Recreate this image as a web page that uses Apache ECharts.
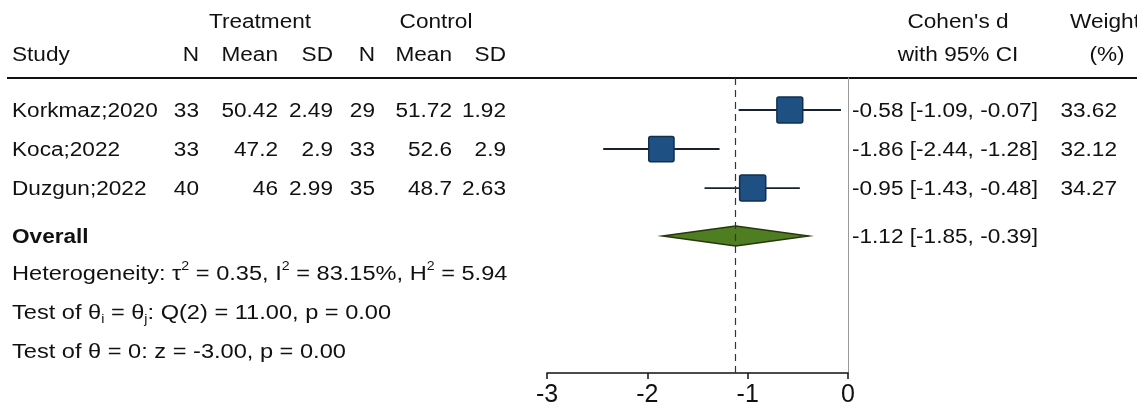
<!DOCTYPE html>
<html>
<head>
<meta charset="utf-8">
<script src="https://cdn.jsdelivr.net/npm/echarts@6/dist/echarts.min.js"></script>
<style>
  html, body { margin: 0; padding: 0; background: #fff; }
  #main { width: 1137px; height: 404px; }
</style>
</head>
<body>
<div id="main"></div>
<script>
// ---- data ----
var studies   = ['Korkmaz;2020', 'Koca;2022', 'Duzgun;2022'];
var treatN    = [33, 33, 40];
var treatMean = [50.42, 47.2, 46];
var treatSD   = [2.49, 2.9, 2.99];
var ctrlN     = [29, 33, 35];
var ctrlMean  = [51.72, 52.6, 48.7];
var ctrlSD    = [1.92, 2.9, 2.63];
var effect    = [-0.58, -1.86, -0.95];
var ciLow     = [-1.09, -2.44, -1.43];
var ciHigh    = [-0.07, -1.28, -0.48];
var weight    = [33.62, 32.12, 34.27];
var overall   = [-1.12, -1.85, -0.39];   // d, lower, upper
var xTicks    = [-3, -2, -1, 0];
var hetStats  = { tau2: '0.35', i2: '83.15', h2: '5.94' };
var qTest     = { df: 2, q: '11.00', p: '0.00' };
var zTest     = { z: '-3.00', p: '0.00' };

var FONT = '"Liberation Sans", Arial, Helvetica, sans-serif';
var SX = 1.13;           // text in the source is a bit wide
var SX_NOTE = 1.18;      // the footnote lines are a touch wider still
var Y_MAX = 7.56;        // rows are one unit apart
var myChart = echarts.init(document.getElementById('main'));

function rowY(i) { return i + 0.82; }
var overallY = studies.length + 1.05;

var studyData = studies.map(function (s, i) {
  return [effect[i], ciLow[i], ciHigh[i], rowY(i), weight[i]];
});

var option = {
  animation: false,
  textStyle: { fontFamily: FONT },
  grid: { left: 547, right: 289, top: 78, bottom: 31, outerBoundsMode: 'none', containLabel: false },
  xAxis: {
    type: 'value',
    min: xTicks[0],
    max: xTicks[xTicks.length - 1],
    interval: 1,
    axisLine: { onZero: false, lineStyle: { color: '#111', width: 1.5 } },
    axisTick: { length: 6, lineStyle: { color: '#111', width: 1.5 } },
    axisLabel: { fontSize: 25, color: '#111', margin: 10, fontFamily: FONT },
    splitLine: { show: false }
  },
  yAxis: {
    type: 'value',
    inverse: true,
    min: 0,
    max: Y_MAX,
    position: 'right',
    axisLine: { show: true, onZero: false, lineStyle: { color: '#999', width: 1 } },
    axisTick: { show: false },
    axisLabel: { show: false },
    splitLine: { show: false }
  },
  series: [{
    // overall effect reference line
    type: 'line',
    data: [],
    z: 1,
    markLine: {
      silent: true,
      symbol: 'none',
      label: { show: false },
      lineStyle: { color: '#333', width: 1.2, type: [7, 5] },
      data: [{ xAxis: overall[0] }]
    }
  }, {
    type: 'custom',
    z: 3,
    data: studyData,
    renderItem: function (params, api) {
      var y = api.value(3);
      var p0 = api.coord([api.value(1), y]);
      var p1 = api.coord([api.value(2), y]);
      var c = api.coord([api.value(0), y]);
      var s = 26 * Math.sqrt(api.value(4) / 34);
      return {
        type: 'group',
        children: [{
          type: 'line',
          shape: { x1: p0[0], y1: p0[1], x2: p1[0], y2: p1[1] },
          style: { stroke: '#18222e', lineWidth: 1.8 }
        }, {
          type: 'rect',
          shape: { x: c[0] - s / 2, y: c[1] - s / 2, width: s, height: s, r: 2 },
          style: { fill: '#1e5083', stroke: '#10304f', lineWidth: 1.5 }
        }]
      };
    }
  }, {
    type: 'custom',
    z: 3,
    data: [[overall[0], overall[1], overall[2], overallY]],
    renderItem: function (params, api) {
      var y = api.value(3);
      var c = api.coord([api.value(0), y]);
      var l = api.coord([api.value(1), y]);
      var r = api.coord([api.value(2), y]);
      var h = 10;
      return {
        type: 'polygon',
        shape: { points: [[l[0], l[1]], [c[0], c[1] - h], [r[0], r[1]], [c[0], c[1] + h]] },
        style: { fill: '#4f7d22', stroke: '#26360f', lineWidth: 1.4 }
      };
    }
  }]
};
myChart.setOption(option);

// ---- table text ----
function py(v) { return myChart.convertToPixel({ yAxisIndex: 0 }, v); }
var RICH = {
  sup: { fontSize: 12, verticalAlign: 'top', fontFamily: FONT, fill: '#111' },
  sub: { fontSize: 12, verticalAlign: 'bottom', fontFamily: FONT, fill: '#111' }
};
function txt(x, v, s, align, bold, sx) {
  return {
    type: 'text',
    x: x,
    y: py(v) + 1,
    scaleX: sx || SX,
    silent: true,
    style: {
      text: s, x: 0, y: 0,
      align: align,
      verticalAlign: 'middle',
      fontSize: 20,
      lineHeight: 26,
      fontFamily: FONT,
      fontWeight: bold ? 'bold' : 'normal',
      fill: '#111',
      rich: RICH
    }
  };
}
function f2(v) { return v.toFixed(2); }

var HEAD1 = -1.44, HEAD2 = -0.59;
var cols = [
  { x: 199, vals: treatN },
  { x: 278, vals: treatMean },
  { x: 333, vals: treatSD },
  { x: 375, vals: ctrlN },
  { x: 452, vals: ctrlMean },
  { x: 506, vals: ctrlSD }
];
var heads = ['N', 'Mean', 'SD', 'N', 'Mean', 'SD'];
var g = [];
g.push(txt(260, HEAD1, 'Treatment', 'center'));
g.push(txt(436, HEAD1, 'Control', 'center'));
g.push(txt(958, HEAD1, "Cohen's d", 'center'));
g.push(txt(958, HEAD2, 'with 95% CI', 'center'));
g.push(txt(1105, HEAD1, 'Weight', 'center'));
g.push(txt(1107, HEAD2, '(%)', 'center'));
g.push(txt(12, HEAD2, 'Study', 'left'));
cols.forEach(function (c, k) {
  g.push(txt(c.x, HEAD2, heads[k], 'right'));
  c.vals.forEach(function (v, i) { g.push(txt(c.x, rowY(i), String(v), 'right')); });
});
studies.forEach(function (s, i) {
  g.push(txt(12, rowY(i), s, 'left'));
  g.push(txt(852, rowY(i), f2(effect[i]) + ' [' + f2(ciLow[i]) + ', ' + f2(ciHigh[i]) + ']', 'left'));
  g.push(txt(1117, rowY(i), f2(weight[i]), 'right'));
});
g.push(txt(12, overallY, 'Overall', 'left', true));
g.push(txt(852, overallY, f2(overall[0]) + ' [' + f2(overall[1]) + ', ' + f2(overall[2]) + ']', 'left'));
var n = studies.length;
g.push(txt(12, n + 2, 'Heterogeneity: \u03c4{sup|2} = ' + hetStats.tau2 + ', I{sup|2} = ' + hetStats.i2 +
  '%, H{sup|2} = ' + hetStats.h2, 'left', false, SX_NOTE));
g.push(txt(12, n + 3, 'Test of \u03b8{sub|i} = \u03b8{sub|j}: Q(' + qTest.df + ') = ' + qTest.q + ', p = ' + qTest.p,
  'left', false, SX_NOTE));
g.push(txt(12, n + 4, 'Test of \u03b8 = 0: z = ' + zTest.z + ', p = ' + zTest.p, 'left', false, SX_NOTE));

// header rule
var ruleY = py(0);
g.push({ type: 'line', silent: true, shape: { x1: 7, y1: ruleY, x2: 1137, y2: ruleY },
  style: { stroke: '#111', lineWidth: 2 } });

myChart.setOption({ graphic: g });
window.onresize = myChart.resize;
</script>
</body>
</html>
